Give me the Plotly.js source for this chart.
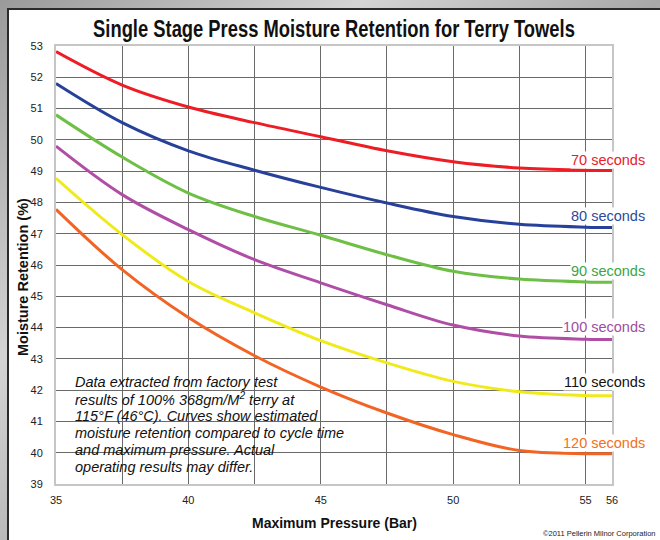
<!DOCTYPE html>
<html>
<head>
<meta charset="utf-8">
<script src="https://cdn.plot.ly/plotly-3.0.1.min.js"></script>
<style>
  html, body { margin: 0; padding: 0; }
  #frame { position: relative; width: 660px; height: 540px; overflow: hidden;
    background: linear-gradient(135deg, #9a9a9a 0%, #d4d4d4 30%, #a8a8a8 55%, #dcdcdc 80%, #b0b0b0 100%); }
  #panel { position: absolute; left: 7px; top: 8px; right: 0; bottom: 0; background: #ffffff;
    border-left: 2px solid #2b2b2b; border-top: 2px solid #2b2b2b; }
  #chart { position: absolute; left: 0; top: 0; width: 660px; height: 540px; }
</style>
</head>
<body>
<div id="frame"><div id="panel"></div><div id="chart"></div></div>
<script>
// Pressure (Bar)
const pressure = [35, 37.5, 40, 42.5, 45, 47.5, 50, 52.5, 55, 56];
// Moisture retention (%) per cycle time
const sec70  = [52.82, 51.75, 51.05, 50.55, 50.10, 49.65, 49.30, 49.10, 49.03, 49.02];
const sec80  = [51.80, 50.55, 49.65, 49.03, 48.48, 47.98, 47.55, 47.30, 47.21, 47.20];
const sec90  = [50.80, 49.45, 48.30, 47.55, 46.95, 46.33, 45.80, 45.55, 45.46, 45.45];
const sec100 = [49.80, 48.25, 47.13, 46.17, 45.43, 44.73, 44.08, 43.73, 43.63, 43.62];
const sec110 = [48.77, 46.97, 45.47, 44.47, 43.58, 42.87, 42.28, 41.95, 41.83, 41.82];
const sec120 = [47.78, 45.85, 44.32, 43.10, 42.10, 41.27, 40.58, 40.07, 39.97, 39.97];
const seriesNames = ['70 seconds', '80 seconds', '90 seconds', '100 seconds', '110 seconds', '120 seconds'];
const xTickVals = [35, 40, 45, 50, 55, 56];
const xGridVals = [37.5, 40, 42.5, 45, 47.5, 50, 52.5, 55];
const noteLines = [
  'Data extracted from factory test',
  'results of 100% 368gm/M<sup>2</sup> terry at',
  '115°F (46°C). Curves show estimated',
  'moisture retention compared to cycle time',
  'and maximum pressure. Actual',
  'operating results may differ.'
];

const allSeries = [sec70, sec80, sec90, sec100, sec110, sec120];
const lineColors = ['#ee1c24', '#27409a', '#6dbf45', '#b04ea6', '#f1ea1b', '#f26423'];
const labelColors = ['#e8202a', '#2b4a9b', '#3aa54a', '#9c4ea0', '#111111', '#f37021'];
const labelShift = [11, 11, 11, 12, 14, 11];

const FONT = 'Liberation Sans, Arial, Helvetica, sans-serif';

const traces = allSeries.map((ys, i) => ({
  x: pressure, y: ys, type: 'scatter', mode: 'lines', name: seriesNames[i],
  line: { color: lineColors[i], width: 3, shape: 'spline', smoothing: 1 },
  hoverinfo: 'skip', showlegend: false
}));

const annotations = allSeries.map((ys, i) => ({
  xref: 'paper', x: (646 - 56) / 556, xanchor: 'right',
  yref: 'y', y: ys[ys.length - 1], yanchor: 'middle', yshift: labelShift[i],
  text: seriesNames[i], showarrow: false, bgcolor: '#ffffff', borderpad: 0,
  font: { family: FONT, size: 14.5, color: labelColors[i] }
}));

noteLines.forEach((ln, i) => {
  annotations.push({
    xref: 'paper', x: (73 - 56) / 556, xanchor: 'left',
    yref: 'paper', y: (484 - (382 + 17 * i)) / 438, yanchor: 'middle', align: 'left', showarrow: false,
    text: '<i>' + ln + '</i>',
    font: { family: FONT, size: 14.5, color: '#111' }
  });
});
annotations.push({
  xref: 'paper', x: (23 - 56) / 556, xanchor: 'center',
  yref: 'paper', y: (484 - 277) / 438, yanchor: 'middle', textangle: -90, showarrow: false,
  text: '<b>Moisture Retention (%)</b>', font: { family: FONT, size: 14.5, color: '#111' }
});
annotations.push({
  xref: 'paper', x: 0.5, xanchor: 'center',
  yref: 'paper', y: (484 - 523) / 438, yanchor: 'middle', showarrow: false,
  text: '<b>Maximum Pressure (Bar)</b>', font: { family: FONT, size: 14, color: '#111' }
});
annotations.push({
  xref: 'paper', x: (658 - 56) / 556, xanchor: 'right',
  yref: 'paper', y: (484 - 533) / 438, yanchor: 'middle', showarrow: false,
  text: '©2011 Pellerin Milnor Corporation', font: { family: FONT, size: 7.5, color: '#222' }
});

const layout = {
  width: 660, height: 540,
  margin: { l: 56, r: 48, t: 46, b: 56 },
  paper_bgcolor: 'rgba(0,0,0,0)', plot_bgcolor: 'rgba(0,0,0,0)',
  font: { family: FONT, color: '#222' },
  title: {
    text: '<b>Single Stage Press Moisture Retention for Terry Towels</b>',
    font: { family: FONT, size: 24, color: '#111' },
    xref: 'paper', x: 0.5, xanchor: 'center', yref: 'container', y: 1 - 29 / 540, yanchor: 'middle'
  },
  xaxis: {
    range: [35, 56], tickmode: 'array', tickvals: xTickVals, ticktext: xTickVals.map(String),
    showgrid: false, zeroline: false, showline: true, linecolor: '#c6c6c6', linewidth: 2, mirror: true,
    ticks: '', ticklabelstandoff: 5, tickfont: { size: 11, color: '#222' },
    minor: { tickmode: 'array', tickvals: xGridVals, showgrid: true, gridcolor: '#6a6a6a', gridwidth: 1, ticks: '' }
  },
  yaxis: {
    range: [39, 53], tickmode: 'linear', tick0: 39, dtick: 1,
    showgrid: true, gridcolor: '#6a6a6a', gridwidth: 1, zeroline: false,
    showline: true, linecolor: '#c6c6c6', linewidth: 2, mirror: true,
    ticks: '', ticklabelstandoff: 9, tickfont: { size: 11, color: '#222' }
  },
  shapes: [{
    type: 'rect', layer: 'between', xref: 'paper', yref: 'paper',
    x0: (65 - 56) / 556, x1: (345 - 56) / 556, y0: (484 - 473) / 438, y1: (484 - 373) / 438,
    fillcolor: '#ffffff', line: { width: 0 }
  }],
  annotations: annotations
};

Plotly.newPlot('chart', traces, layout, { displayModeBar: false, staticPlot: true }).then(() => {
  // condensed look of the original title face
  const t = document.querySelector('#chart .gtitle');
  if (t) {
    const bb = t.getBBox();
    const cx = bb.x + bb.width / 2;
    const target = 482;
    const s = Math.min(1, target / bb.width);
    t.setAttribute('transform', 'translate(' + cx + ',0) scale(' + s + ',1) translate(' + (-cx) + ',0)');
  }
});
</script>
</body>
</html>
